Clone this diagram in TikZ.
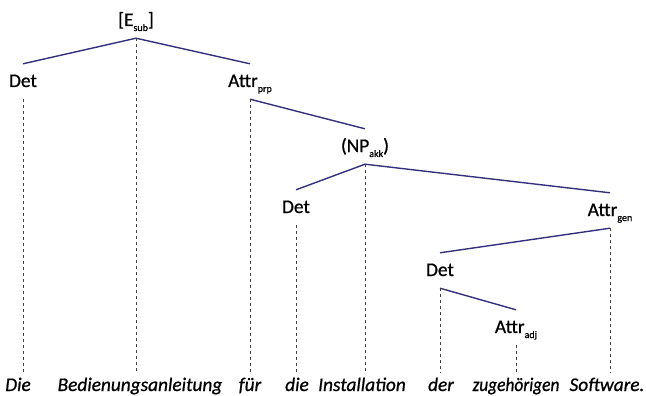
\documentclass[tikz,border=0pt]{standalone}
\usepackage{fontspec}
\setmainfont[FakeBold=0.8]{Carlito}
\newcommand{\tsub}[1]{\raisebox{-5pt}{\fontsize{10}{10}\selectfont #1}}
\definecolor{astblau}{RGB}{52,48,125}
\tikzset{kat/.style={anchor=base,inner xsep=0pt,inner ysep=10pt,text height=13pt,text depth=2pt,font=\fontsize{19.3}{23}\selectfont},
  wort/.style={anchor=base,inner xsep=0pt,inner ysep=5pt,text height=13pt,text depth=4pt,font=\fontsize{19.3}{23}\selectfont\itshape},
  ast/.style={astblau,line width=1.4pt},
  proj/.style={black!75,line width=0.8pt,dash pattern=on 3pt off 3pt}}
\begin{document}
\begin{tikzpicture}[x=1pt,y=-1pt]
\useasboundingbox (0,0) rectangle (646,396);
\node[kat] (esub) at (136,26) {[E\tsub{sub}]};
\node[kat] (det1) at (23,87) {Det}; \node[kat] (attrprp) at (250,87) {Attr\tsub{prp}};
\node[kat] (np) at (365,152) {(NP\tsub{akk})};
\node[kat] (det2) at (296,213) {Det}; \node[kat] (attrgen) at (610,216) {Attr\tsub{gen}};
\node[kat] (det3) at (440,276) {Det}; \node[kat] (attradj) at (516,333) {Attr\tsub{adj}};
\node[wort] (w1) at (18,391) {Die}; \node[wort] (w2) at (140,391) {Bedienungsanleitung};
\node[wort] (w3) at (250,391) {für}; \node[wort] (w4) at (297,391) {die};
\node[wort] (w5) at (362,391) {Installation}; \node[wort] (w6) at (441,391) {der};
\node[wort] (w7) at (516,391) {\scalebox{0.9}[1]{zugehörigen}}; \node[wort] (w8) at (607,391) {Software.};
\draw[ast] (det1.north)--(esub.south)--(attrprp.north);
\draw[ast] (attrprp.south)--(np.north);
\draw[ast] (det2.north)--(np.south)--(attrgen.north);
\draw[ast] (attrgen.south)--(det3.north); \draw[ast] (det3.south)--(attradj.north);
\draw[proj] (det1.south)--(det1.south |- w1.north); \draw[proj] (esub.south)--(esub.south |- w2.north);
\draw[proj] (attrprp.south)--(attrprp.south |- w3.north); \draw[proj] (det2.south)--(det2.south |- w4.north);
\draw[proj] (np.south)--(np.south |- w5.north); \draw[proj] (det3.south)--(det3.south |- w6.north);
\draw[proj] (attradj.south)--(attradj.south |- w7.north); \draw[proj] (attrgen.south)--(attrgen.south |- w8.north);
\end{tikzpicture}
\end{document}
